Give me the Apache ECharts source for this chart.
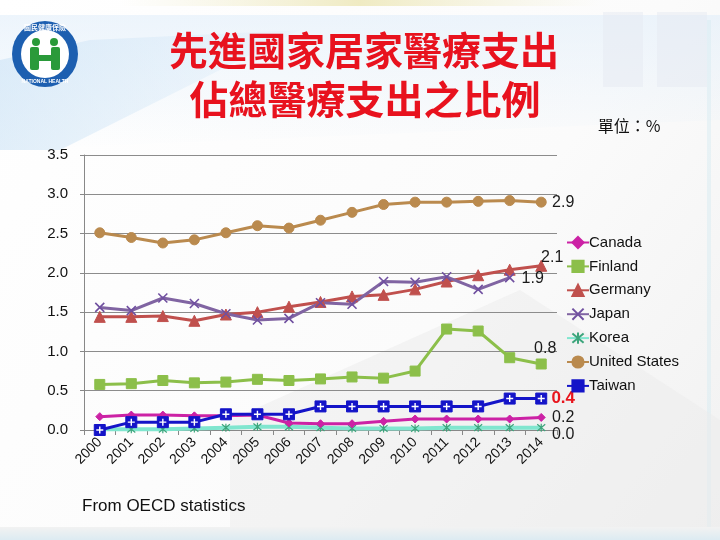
<!DOCTYPE html>
<html><head><meta charset="utf-8">
<script src="https://cdn.jsdelivr.net/npm/echarts@6/dist/echarts.min.js"></script>
<style>html,body{margin:0;padding:0;background:#fff}#c{width:720px;height:540px}</style>
</head><body><div id="c"></div>
<script>
var years = ['2000','2001','2002','2003','2004','2005','2006','2007','2008','2009','2010','2011','2012','2013','2014'];
var canada  = [0.17,0.19,0.19,0.18,0.18,0.19,0.09,0.08,0.08,0.11,0.14,0.14,0.14,0.14,0.16];
var finland = [0.58,0.59,0.63,0.60,0.61,0.645,0.63,0.65,0.675,0.66,0.75,1.285,1.26,0.92,0.84];
var germany = [1.44,1.44,1.45,1.39,1.47,1.50,1.57,1.63,1.70,1.72,1.79,1.89,1.97,2.04,2.09];
var japan   = [1.56,1.52,1.68,1.61,1.48,1.40,1.42,1.62,1.60,1.89,1.88,1.95,1.79,1.94,null];
var korea   = [0.01,0.01,0.01,0.02,0.03,0.04,0.04,0.03,0.02,0.02,0.02,0.03,0.03,0.03,0.03];
var usa     = [2.51,2.45,2.38,2.42,2.51,2.60,2.57,2.67,2.77,2.87,2.90,2.90,2.91,2.92,2.90];
var taiwan  = [0.0,0.1,0.1,0.1,0.2,0.2,0.2,0.3,0.3,0.3,0.3,0.3,0.3,0.4,0.4];
var endLabels = {Canada:'0.2', Finland:'0.8', Germany:'2.1', Japan:'1.9', Korea:'0.0', 'United States':'2.9', Taiwan:'0.4'};

var chart = echarts.init(document.getElementById('c'), null, {renderer:'canvas'});

function withEndLabel(arr, text, labelOpt){
  var last = -1;
  for (var i=0;i<arr.length;i++) if (arr[i]!=null) last=i;
  return arr.map(function(v,i){
    if (i===last) return {value:v, label:Object.assign({show:true, position:'inside', formatter:text, fontSize:16, color:'#1a1a1a', fontFamily:'Arial'}, labelOpt)};
    return v;
  });
}
var xPath = 'path://M0,0L10,10M10,0L0,10';
var astPath = 'path://M0,0L10,10M10,0L0,10M5,-1L5,11';
var plusPath = 'path://M4,0H6V4H10V6H6V10H4V6H0V4H4Z';

function mk(name, data, color, symbol, size, extra, labelOpt){
  return Object.assign({
    name:name, type:'line', data:withEndLabel(data, endLabels[name], labelOpt),
    symbol:symbol, symbolSize:size, showAllSymbol:true, connectNulls:false,
    lineStyle:{color:color, width:3},
    itemStyle:{color:color, borderColor:color, borderWidth:1},
    emphasis:{disabled:true}, animation:false
  }, extra||{});
}

var series = [
  mk('Canada', canada, '#CC22A5', 'diamond', 8, null, {offset:[22,0]}),
  mk('Finland', finland, '#8CBF4A', 'rect', 10, null, {offset:[4,-15]}),
  mk('Germany', germany, '#C0504D', 'triangle', 11, null, {offset:[11,-8]}),
  mk('Japan', japan, '#8064A2', xPath, 9, {itemStyle:{color:'#8064A2', borderColor:'#7050A0', borderWidth:1.6}}, {offset:[23,1]}),
  mk('Korea', korea, '#80E6CF', astPath, 8, {lineStyle:{color:'#80E6CF', width:4}, itemStyle:{color:'#3DA57C', borderColor:'#3DA57C', borderWidth:1.2}, z:1}, {offset:[22,7]}),
  mk('United States', usa, '#BA8A4E', 'circle', 10, null, {offset:[22,0]}),
  mk('Taiwan', taiwan, '#1414C8', 'rect', 11, {z:3}, {offset:[22,0], color:'#E8141C', fontWeight:'bold', fontSize:17}),
  {
    name:'TaiwanMark', type:'line', data:taiwan, symbol:plusPath, symbolSize:7,
    lineStyle:{width:0, opacity:0}, itemStyle:{color:'#ffffff'}, z:4, silent:true,
    emphasis:{disabled:true}, animation:false, tooltip:{show:false}
  }
];

var option = {
  backgroundColor:'#ffffff',
  animation:false,
  textStyle:{fontFamily:'Arial, "Liberation Sans", sans-serif'},
  graphic:[
    {type:'rect', z:-10, shape:{x:0,y:0,width:720,height:540}, style:{fill:new echarts.graphic.LinearGradient(0,0,1,1,[{offset:0,color:'#ffffff'},{offset:0.6,color:'#fbfbfb'},{offset:1,color:'#f1f1f1'}])}},
    {type:'rect', z:-9, shape:{x:120,y:0,width:480,height:6}, style:{fill:new echarts.graphic.LinearGradient(0,0,1,0,[{offset:0,color:'rgba(240,236,200,0)'},{offset:0.5,color:'rgba(236,230,180,0.8)'},{offset:1,color:'rgba(240,236,200,0)'}])}},
    {type:'polygon', z:-9, shape:{points:[[0,15],[720,15],[720,120],[0,150]]}, style:{fill:new echarts.graphic.LinearGradient(0,0,0,1,[{offset:0,color:'rgba(225,238,250,0.6)'},{offset:1,color:'rgba(225,238,250,0)'}])}},
    {type:'polygon', z:-9, shape:{points:[[0,60],[90,40],[300,30],[60,150],[0,150]]}, style:{fill:new echarts.graphic.LinearGradient(0,0,1,0,[{offset:0,color:'rgba(200,225,245,0.55)'},{offset:1,color:'rgba(200,225,245,0.1)'}])}},
    {type:'rect', z:-9, shape:{x:603,y:12,width:40,height:75}, style:{fill:'rgba(230,234,242,0.5)'}},
    {type:'rect', z:-9, shape:{x:657,y:12,width:50,height:75}, style:{fill:'rgba(230,234,242,0.5)'}},
    {type:'rect', z:-9, shape:{x:707,y:20,width:4,height:510}, style:{fill:'rgba(215,235,242,0.5)'}},
    {type:'polygon', z:-9, shape:{points:[[230,540],[230,420],[520,290],[720,420],[720,540]]}, style:{fill:'rgba(236,236,236,0.5)'}},
    {type:'rect', z:-9, shape:{x:0,y:527,width:720,height:13}, style:{fill:new echarts.graphic.LinearGradient(0,0,0,1,[{offset:0,color:'rgba(242,242,242,1)'},{offset:1,color:'rgba(220,235,242,1)'}])}},
    // logo
    {type:'circle', shape:{cx:45,cy:54,r:33}, style:{fill:'#1d5fb0'}},
    {type:'circle', shape:{cx:45,cy:54,r:24}, style:{fill:'#ffffff'}},
    {type:'circle', shape:{cx:36,cy:42,r:4}, style:{fill:'#2a9a3a'}},
    {type:'circle', shape:{cx:54,cy:42,r:4}, style:{fill:'#2a9a3a'}},
    {type:'rect', shape:{x:30,y:47,width:9,height:23,r:2}, style:{fill:'#2a9a3a'}},
    {type:'rect', shape:{x:51,y:47,width:9,height:23,r:2}, style:{fill:'#2a9a3a'}},
    {type:'rect', shape:{x:37,y:55,width:16,height:6}, style:{fill:'#2a9a3a'}},
    {type:'text', style:{x:45,y:27,text:'國民健康保險',fill:'#ffffff',font:'bold 7px "Noto Sans CJK TC"',align:'center',verticalAlign:'middle'}},
    {type:'text', style:{x:45,y:82,text:'NATIONAL HEALTH',fill:'#ffffff',font:'bold 5px Arial',align:'center',verticalAlign:'middle'}},
    // title
    {type:'text', style:{x:364,y:50,text:'先進國家居家醫療支出',fill:'#E8121E',font:'bold 39px "Noto Sans CJK TC"',align:'center',verticalAlign:'middle'}},
    {type:'text', style:{x:365,y:99,text:'佔總醫療支出之比例',fill:'#E8121E',font:'bold 39px "Noto Sans CJK TC"',align:'center',verticalAlign:'middle'}},
    {type:'text', style:{x:629,y:126,text:'單位：%',fill:'#111111',font:'16px "Noto Sans CJK TC"',align:'center',verticalAlign:'middle'}},
    {type:'text', style:{x:82,y:506,text:'From OECD statistics',fill:'#111111',font:'17px Arial',align:'left',verticalAlign:'middle'}}
  ],
  legend:{
    orient:'vertical', left:561, top:230, itemGap:8.9, itemWidth:22, itemHeight:14,
    data:['Canada','Finland','Germany','Japan','Korea','United States','Taiwan'],
    textStyle:{fontSize:15, color:'#111', fontFamily:'Arial', padding:[0,0,0,-5]},
    selectedMode:false
  },
  grid:{left:84, right:163, top:155, bottom:110, containLabel:false},
  xAxis:{
    type:'category', data:years, boundaryGap:true,
    axisLine:{lineStyle:{color:'#888888', width:1}},
    axisTick:{show:true, alignWithLabel:false, length:5, lineStyle:{color:'#888888'}},
    axisLabel:{rotate:45, fontSize:14, color:'#111', margin:10, fontFamily:'Arial', interval:0},
    splitLine:{show:false}
  },
  yAxis:{
    type:'value', min:0, max:3.5, interval:0.5,
    axisLine:{show:true, lineStyle:{color:'#888888'}},
    axisTick:{show:true, length:4, lineStyle:{color:'#888888'}},
    axisLabel:{formatter:function(v){return v.toFixed(1);}, fontSize:15, color:'#111', margin:16, fontFamily:'Arial'},
    splitLine:{show:true, lineStyle:{color:'#8c8c8c', width:1}}
  },
  series:series
};
chart.setOption(option);
</script>
</body></html>
